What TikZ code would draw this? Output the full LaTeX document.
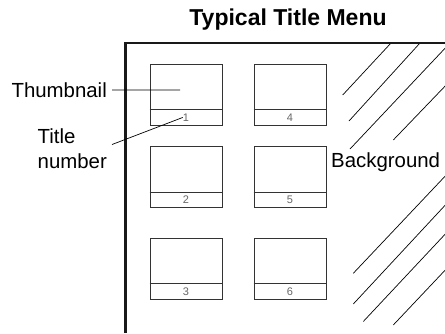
\documentclass[tikz,border=0pt]{standalone}
\usepackage{fontspec}
\setmainfont{Liberation Sans}
\newcommand{\vignette}[2]{% numero, position
  \node[vignette] (v#1) at (#2) {};
  \draw[cadre] ([yshift=16pt]v#1.south west) -- ([yshift=16pt]v#1.south east);
  \node[numero] (n#1) at ([yshift=8pt]v#1.south) {#1};}

\begin{document}
\begin{tikzpicture}[x=1pt,y=-1pt,
    cadre/.style={draw=black!80,line width=0.9pt},
    vignette/.style={cadre,minimum width=72pt,minimum height=61pt,inner sep=0pt},
    numero/.style={text=black!60,font=\fontsize{11}{11}\selectfont,inner sep=0pt},
    etiquette/.style={font=\fontsize{20.4}{25}\selectfont,inner sep=0pt},
    renvoi/.style={line width=0.7pt}]
    \useasboundingbox (0,0) rectangle (445,333);
    \node[font=\fontsize{23}{23}\selectfont\bfseries,anchor=base,inner sep=0pt] (titre) at (288,25) {Typical Title Menu};
    % hachures du fond
    \begin{scope}
      \clip (126,44) rectangle (445,333);
      \draw[renvoi] (342.7,95) -- (391,43) (349,121) -- (420,43) (350,149) -- (450,43)
        (393.3,140) -- (450,81) (353.3,273.3) -- (450,171) (353.3,304) -- (450,200)
        (363.3,321.5) -- (450,229) (393.3,325) -- (450,265);
    \end{scope}
    \draw[line width=2.6pt,black!90] (125.5,333) -- (125.5,43) -- (445,43);
    % vignettes
    \vignette{1}{186,94.5} \vignette{2}{186,177.2} \vignette{3}{186,268.7}
    \vignette{4}{290,94.5} \vignette{5}{290,177.2} \vignette{6}{290,268.7}
    % legendes
    \node[etiquette,anchor=base east] (vign) at (107,97.3) {Thumbnail};
    \coordinate (image) at (180,90);
    \draw[renvoi] ([xshift=5pt]vign.east) -- (image);
    \node[etiquette,anchor=north west,align=left] (titnum) at (37.5,128.8) {Title\\number};
    \draw[renvoi] ([xshift=5pt,yshift=4.5pt]titnum.east) -- (n1.west);
    \node[etiquette,anchor=base west] (fond) at (331,167.5) {Background};
\end{tikzpicture}
\end{document}
